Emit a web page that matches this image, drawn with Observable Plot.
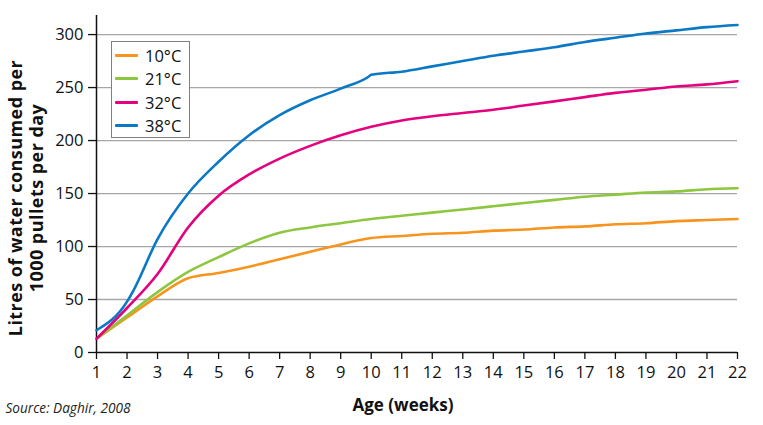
<!DOCTYPE html>
<html>
<head>
<meta charset="utf-8">
<script src="https://cdn.jsdelivr.net/npm/d3@7"></script>
<script src="https://cdn.jsdelivr.net/npm/@observablehq/plot@0.6"></script>
<style>
  body { margin: 0; background: #fff; font-family: "Open Sans", "Noto Sans", sans-serif; }
  #wrap { position: relative; width: 763px; height: 425px; }
  #legend { position: absolute; left: 111px; top: 41px; width: 79px; height: 97px;
            border: 1.5px solid #808080; background: #fff; box-sizing: border-box;
            font-size: 16.5px; color: #111; }
  .item { position: absolute; left: 3px; height: 22px; display: flex; align-items: center; }
  .sw { width: 23px; height: 3px; margin-right: 7px; border-radius: 1px; }
  .ylab { letter-spacing: 0.45px; }
</style>
</head>
<body>
<div id="wrap"></div>
<script>
const weeks = [1,2,3,4,5,6,7,8,9,10,11,12,13,14,15,16,17,18,19,20,21,22];
const t10 = [13,33,53,70,75,81,88,95,102,108,110,112,113,115,116,118,119,121,122,124,125,126];
const t21 = [13,35,57,76,90,103,113,118,122,126,129,132,135,138,141,144,147,149,151,152,154,155];
const t32 = [13,42,74,118,148,168,183,195,205,213,219,223,226,229,233,237,241,245,248,251,253,256];
const weeks38 = [1,2,2.2,3,4,5,6,7,8,9,9.9,10,11,12,13,14,15,16,17,18,19,20,21,22];
const t38 = [21,48,58,107,150,180,205,224,238,249,260,262,265,270,275,280,284,288,293,297,301,304,307,309];
const seriesNames = ["10°C","21°C","32°C","38°C"];
const colors = ["#f7941d","#8dc63f","#e5007e","#0a78c4"];
const yTicks = [0,50,100,150,200,250,300];
const xTicks = weeks;

const data = [];
[[weeks,t10],[weeks,t21],[weeks,t32],[weeks38,t38]].forEach(([xs,ys],i) => {
  xs.forEach((w,j) => data.push({series: seriesNames[i], week: w, value: ys[j]}));
});

const font = `"Open Sans", "Noto Sans", sans-serif`;
const chart = Plot.plot({
  width: 763, height: 425,
  marginLeft: 96, marginRight: 26, marginTop: 15, marginBottom: 73,
  style: {fontFamily: font, fontSize: "16.5px", color: "#111", background: "#fff", overflow: "visible"},
  x: {domain: [1,22], axis: null},
  y: {domain: [0,318], axis: null},
  color: {domain: seriesNames, range: colors},
  marks: [
    Plot.ruleY(yTicks.filter(d => d > 0), {stroke: "#a6a6a6", strokeWidth: 1.3}),
    Plot.axisY(yTicks, {tickSize: 8, tickPadding: 5, fontSize: 16.5, stroke: "#111", strokeWidth: 1.3, label: null}),
    Plot.axisX(xTicks, {tickSize: 7, tickPadding: 7, fontSize: 16.5, stroke: "#111", strokeWidth: 1.3, label: null}),
    Plot.ruleX([1], {y1: 0, y2: 318, stroke: "#111", strokeWidth: 1.5}),
    Plot.ruleY([0], {stroke: "#111", strokeWidth: 1.5}),
    Plot.line(data, {x: "week", y: "value", z: "series", stroke: "series", strokeWidth: 2.6, curve: "monotone-x"}),
    Plot.text(["Litres of water consumed per\n1000 pullets per day"], {
      frameAnchor: "left", dx: -71, dy: 14, rotate: -90, text: d => d, textAnchor: "middle",
      fontWeight: "bold", fontSize: 18, lineHeight: 1.2, fill: "#111", className: "ylab"}),
    Plot.text(["Age (weeks)"], {
      frameAnchor: "bottom", dx: -14, dy: 58, text: d => d, textAnchor: "middle",
      fontWeight: "bold", fontSize: 17, fill: "#111"}),
    Plot.text(["Source: Daghir, 2008"], {
      frameAnchor: "bottom-left", dx: -91, dy: 60, text: d => d, textAnchor: "start",
      fontStyle: "italic", fontSize: 13.6, fill: "#222"})
  ]
});
const wrap = document.getElementById("wrap");
wrap.appendChild(chart);

const legend = document.createElement("div");
legend.id = "legend";
seriesNames.forEach((s,i) => {
  const it = document.createElement("div");
  it.className = "item";
  it.style.top = (2 + i*23.5) + "px";
  it.innerHTML = `<span class="sw" style="background:${colors[i]}"></span><span>${s}</span>`;
  legend.appendChild(it);
});
wrap.appendChild(legend);
</script>
</body>
</html>
